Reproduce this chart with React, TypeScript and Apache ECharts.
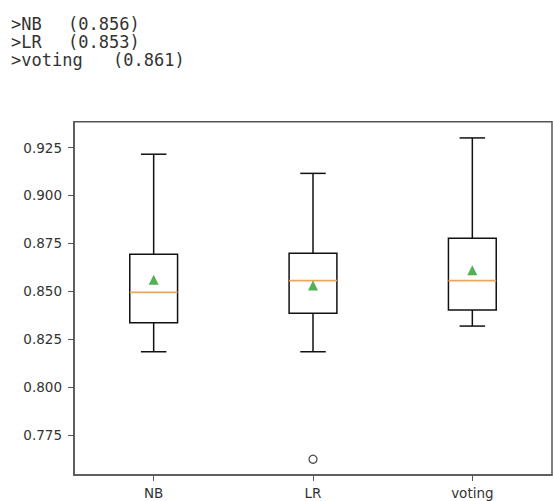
import React, { useEffect, useRef } from "react";
import * as echarts from "echarts";

const categories = ["NB", "LR", "voting"];
const whiskerLow = [0.8184, 0.8184, 0.8318];
const q1 = [0.8336, 0.8385, 0.8402];
const median = [0.8494, 0.8555, 0.8555];
const q3 = [0.8693, 0.8698, 0.8776];
const whiskerHigh = [0.9215, 0.9115, 0.930];
const means = [0.856, 0.853, 0.861];
const outliers: [number, number][] = [[1, 0.7623]];
const yTicks = [0.775, 0.8, 0.825, 0.85, 0.875, 0.9, 0.925];
const yMin = 0.75407;
const yMax = 0.93847;

export default function App() {
  const ref = useRef<HTMLDivElement>(null);
  useEffect(() => {
    if (!ref.current) return;
    const chart = echarts.init(ref.current, undefined, { renderer: "svg" });
    const valueX = [68, 68, 113];
    const headerFont = {
      fontFamily: "DejaVu Sans Mono",
      fontSize: 17,
      lineHeight: 17,
      fill: "#333",
      verticalAlign: "middle",
    };
    const header: any[] = [];
    categories.forEach((c, i) => {
      header.push({
        type: "text",
        x: 11,
        y: 24 + i * 18.2,
        style: { ...headerFont, text: `>${c}` },
      });
      header.push({
        type: "text",
        x: valueX[i],
        y: 24 + i * 18.2,
        style: { ...headerFont, text: `(${means[i].toFixed(3)})` },
      });
    });
    const boxData = categories.map((_, i) => [
      i,
      whiskerLow[i],
      q1[i],
      median[i],
      q3[i],
      whiskerHigh[i],
    ]);
    const lineStyle = { stroke: "#111", lineWidth: 1.5 };
    chart.setOption({
      animation: false,
      backgroundColor: "#fff",
      graphic: header,
      grid: {
        left: 74,
        right: 1,
        top: 121.7,
        bottom: 26,
        show: true,
        borderColor: "#555",
        borderWidth: 1.5,
        backgroundColor: "#fff",
      },
      xAxis: {
        type: "category",
        data: categories,
        boundaryGap: true,
        axisLine: { show: true, lineStyle: { color: "#555", width: 1.5 } },
        axisTick: {
          show: true,
          alignWithLabel: true,
          length: 6,
          lineStyle: { color: "#555", width: 1 },
        },
        axisLabel: {
          color: "#333",
          fontFamily: "DejaVu Sans",
          fontSize: 13.5,
          margin: 11,
        },
        splitLine: { show: false },
      },
      yAxis: {
        type: "value",
        min: yMin,
        max: yMax,
        axisLine: { show: true, lineStyle: { color: "#555", width: 1.5 } },
        axisTick: {
          show: true,
          length: 6,
          customValues: yTicks,
          lineStyle: { color: "#555", width: 1 },
        },
        axisLabel: {
          color: "#333",
          fontFamily: "DejaVu Sans",
          fontSize: 13.5,
          margin: 12,
          customValues: yTicks,
          formatter: (v: number) => v.toFixed(3),
        },
        splitLine: { show: false },
      },
      series: [
        {
          type: "custom",
          data: boxData,
          z: 2,
          renderItem: (params: any, api: any) => {
            const x = api.value(0);
            const pLo = api.coord([x, api.value(1)]);
            const pQ1 = api.coord([x, api.value(2)]);
            const pMed = api.coord([x, api.value(3)]);
            const pQ3 = api.coord([x, api.value(4)]);
            const pHi = api.coord([x, api.value(5)]);
            const band = api.size([1, 0])[0];
            const bw = band * 0.3;
            const cw = band * 0.16;
            const cx = pMed[0];
            return {
              type: "group",
              children: [
                {
                  type: "line",
                  shape: { x1: cx, y1: pQ3[1], x2: cx, y2: pHi[1] },
                  style: lineStyle,
                },
                {
                  type: "line",
                  shape: { x1: cx, y1: pQ1[1], x2: cx, y2: pLo[1] },
                  style: lineStyle,
                },
                {
                  type: "line",
                  shape: { x1: cx - cw / 2, y1: pHi[1], x2: cx + cw / 2, y2: pHi[1] },
                  style: lineStyle,
                },
                {
                  type: "line",
                  shape: { x1: cx - cw / 2, y1: pLo[1], x2: cx + cw / 2, y2: pLo[1] },
                  style: lineStyle,
                },
                {
                  type: "rect",
                  shape: { x: cx - bw / 2, y: pQ3[1], width: bw, height: pQ1[1] - pQ3[1] },
                  style: { fill: "none", stroke: "#111", lineWidth: 1.5 },
                },
                {
                  type: "line",
                  shape: { x1: cx - bw / 2, y1: pMed[1], x2: cx + bw / 2, y2: pMed[1] },
                  style: { stroke: "#eca55c", lineWidth: 1.6 },
                },
              ],
            };
          },
        },
        {
          type: "scatter",
          data: means.map((m, i) => [i, m]),
          symbol: "triangle",
          symbolSize: [10, 10],
          itemStyle: { color: "#2a9c2a" },
          z: 5,
        },
        {
          type: "scatter",
          data: outliers,
          symbol: "circle",
          symbolSize: 8,
          itemStyle: { color: "#fff", borderColor: "#222", borderWidth: 1.3 },
          z: 5,
        },
      ],
    });
    return () => chart.dispose();
  }, []);
  return (
    <div
      ref={ref}
      style={{ position: "fixed", left: 0, top: 0, width: 553, height: 501 }}
    />
  );
}
